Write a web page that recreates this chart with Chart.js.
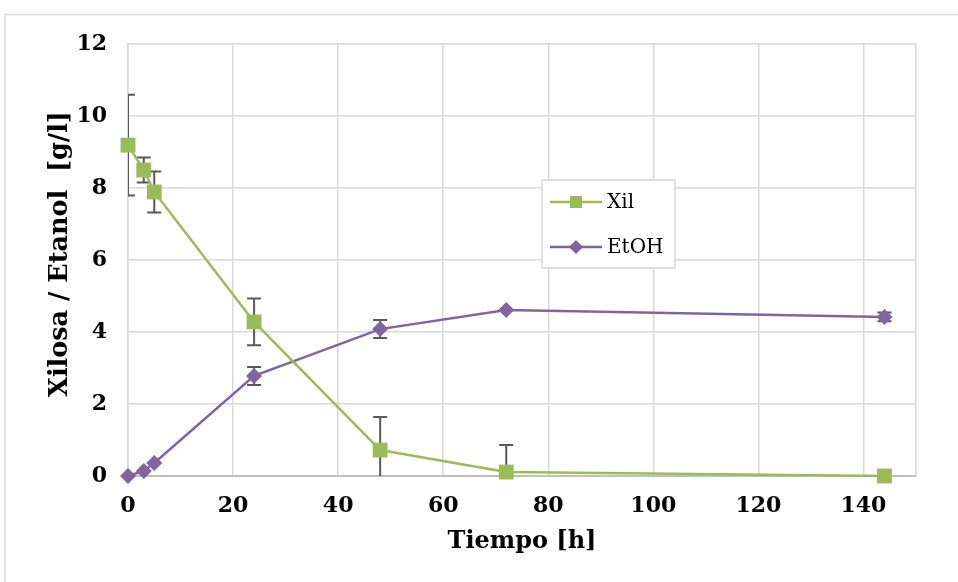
<!DOCTYPE html>
<html><head><meta charset="utf-8">
<script src="https://cdn.jsdelivr.net/npm/chart.js@4"></script>
<style>html,body{margin:0;padding:0;background:#fff;overflow:hidden}</style>
</head><body>
<canvas id="c" width="958" height="582"></canvas>
<script>
const times = [0, 3, 5, 24, 48, 72, 144];
const xilValues = [9.19, 8.50, 7.89, 4.28, 0.72, 0.11, 0.00];
const xilErrors = [1.40, 0.35, 0.57, 0.65, 0.92, 0.75, 0];
const etohValues = [0.00, 0.14, 0.36, 2.78, 4.08, 4.61, 4.42];
const etohErrors = [0, 0, 0, 0.25, 0.25, 0, 0.12];
const xTicks = [0, 20, 40, 60, 80, 100, 120, 140];
const yTicks = [0, 2, 4, 6, 8, 10, 12];
const seriesNames = ['Xil', 'EtOH'];
const xTitle = 'Tiempo [h]';
const yTitle = 'Xilosa / Etanol  [g/l]';

const GREEN = '#9bbb59', PURPLE = '#8064a2';
const SERIF = '"DejaVu Serif", serif';

const frame = {
  id: 'frame',
  beforeDraw(chart) {
    const ctx = chart.ctx;
    ctx.save();
    ctx.fillStyle = '#fff';
    ctx.fillRect(0, 0, chart.width, chart.height);
    ctx.strokeStyle = '#d9d9d9';
    ctx.lineWidth = 1.5;
    ctx.strokeRect(5, 14.5, 1000, 1000);
    ctx.restore();
  }
};

const axisTitles = {
  id: 'axisTitles',
  afterDraw(chart) {
    const ctx = chart.ctx, a = chart.chartArea;
    ctx.save();
    ctx.fillStyle = '#000';
    ctx.textAlign = 'center';
    ctx.textBaseline = 'middle';
    ctx.font = 'bold 24px ' + SERIF;
    ctx.fillText(xTitle, (a.left + a.right) / 2, 542);
    ctx.translate(60, 254);
    ctx.rotate(-Math.PI / 2);
    ctx.font = 'bold 25.5px ' + SERIF;
    ctx.fillText(yTitle, 0, 0);
    ctx.restore();
  }
};

const errorBars = {
  id: 'errorBars',
  beforeDatasetsDraw(chart) {
    const ctx = chart.ctx, xs = chart.scales.x, ys = chart.scales.y, a = chart.chartArea;
    ctx.save();
    ctx.beginPath();
    ctx.rect(a.left, a.top - 10, a.right - a.left, a.bottom - a.top + 10);
    ctx.clip();
    ctx.strokeStyle = '#595959';
    ctx.lineWidth = 2;
    chart.data.datasets.forEach(ds => {
      const errs = ds.errors;
      ds.data.forEach((p, i) => {
        const e = errs[i];
        if (!e) return;
        const x = xs.getPixelForValue(p.x);
        const y1 = ys.getPixelForValue(p.y + e);
        const y2 = ys.getPixelForValue(p.y - e);
        ctx.beginPath();
        ctx.moveTo(x, y1); ctx.lineTo(x, y2);
        ctx.moveTo(x - 7, y1); ctx.lineTo(x + 7, y1);
        ctx.moveTo(x - 7, y2); ctx.lineTo(x + 7, y2);
        ctx.stroke();
      });
    });
    ctx.restore();
  }
};

const customLegend = {
  id: 'customLegend',
  afterDraw(chart) {
    const ctx = chart.ctx;
    const bx = 542, by = 180, bw = 133, bh = 88;
    ctx.save();
    ctx.fillStyle = '#fff';
    ctx.fillRect(bx, by, bw, bh);
    ctx.strokeStyle = '#d9d9d9';
    ctx.lineWidth = 1.5;
    ctx.strokeRect(bx, by, bw, bh);
    chart.data.datasets.forEach((ds, i) => {
      const y = by + 22 + i * 45;
      ctx.strokeStyle = ds.borderColor;
      ctx.lineWidth = 2.5;
      ctx.beginPath(); ctx.moveTo(bx + 8, y); ctx.lineTo(bx + 60, y); ctx.stroke();
      ctx.fillStyle = ds.backgroundColor;
      if (ds.pointStyle === 'rect') {
        ctx.fillRect(bx + 34 - 6, y - 6, 12, 12);
      } else {
        ctx.beginPath();
        ctx.moveTo(bx + 34, y - 7); ctx.lineTo(bx + 41, y); ctx.lineTo(bx + 34, y + 7); ctx.lineTo(bx + 27, y);
        ctx.closePath(); ctx.fill();
      }
      ctx.fillStyle = '#000';
      ctx.font = '20px ' + SERIF;
      ctx.textBaseline = 'middle';
      ctx.fillText(ds.label, bx + 65, y + 1);
    });
    ctx.restore();
  }
};

new Chart(document.getElementById('c'), {
  type: 'line',
  data: {
    datasets: [
      {
        label: seriesNames[0],
        data: times.map((t, i) => ({x: t, y: xilValues[i]})),
        errors: xilErrors,
        borderColor: GREEN, backgroundColor: GREEN,
        borderWidth: 2.5, pointStyle: 'rect', pointRadius: 10.5, pointHoverRadius: 10.5,
        pointBorderWidth: 0, tension: 0
      },
      {
        label: seriesNames[1],
        data: times.map((t, i) => ({x: t, y: etohValues[i]})),
        errors: etohErrors,
        borderColor: PURPLE, backgroundColor: PURPLE,
        borderWidth: 2.5, pointStyle: 'rectRot', pointRadius: 8, pointHoverRadius: 8,
        pointBorderWidth: 0, tension: 0
      }
    ]
  },
  options: {
    responsive: false,
    devicePixelRatio: 1,
    animation: false,
    clip: false,
    layout: {padding: {left: 0, top: 44, right: 42, bottom: 0}},
    plugins: {legend: {display: false}, tooltip: {enabled: false}},
    scales: {
      x: {
        type: 'linear', min: 0, max: 150,
        afterBuildTicks: s => { s.ticks = xTicks.concat([150]).map(v => ({value: v})); },
        afterFit: s => { s.height = 106; },
        grid: {color: '#d9d9d9', lineWidth: 1.5, drawTicks: false},
        border: {color: '#bfbfbf', width: 2},
        ticks: {
          padding: 17, color: '#000', maxRotation: 0,
          font: {family: SERIF, size: 22, weight: 'bold'},
          callback: v => xTicks.includes(v) ? String(v) : ''
        }
      },
      y: {
        type: 'linear', min: 0, max: 12,
        afterBuildTicks: s => { s.ticks = yTicks.map(v => ({value: v})); },
        afterFit: s => { s.width = 128; },
        grid: {color: '#d9d9d9', lineWidth: 1.5, drawTicks: false},
        border: {color: '#d9d9d9', width: 1.5},
        ticks: {
          padding: 21, color: '#000',
          font: {family: SERIF, size: 22, weight: 'bold'}
        }
      }
    }
  },
  plugins: [frame, errorBars, customLegend, axisTitles]
});
</script>
</body></html>
